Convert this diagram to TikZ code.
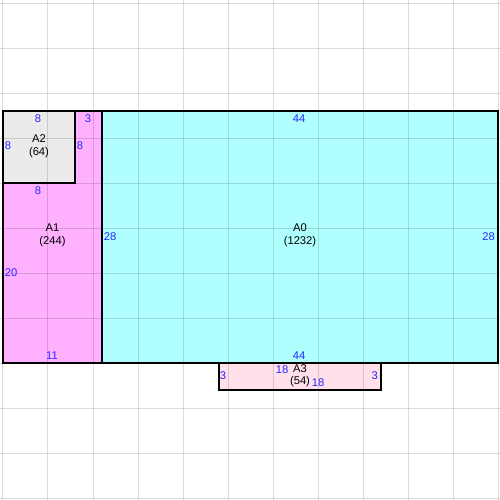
\documentclass[tikz,border=0pt]{standalone}
\usepackage{fontspec}
\setmainfont{Liberation Sans}
\definecolor{fillAzero}{RGB}{176,255,255}
\definecolor{fillAone}{RGB}{255,176,255}
\definecolor{fillAtwo}{RGB}{235,235,235}
\definecolor{fillAthree}{RGB}{255,224,235}
\definecolor{dimblue}{RGB}{40,40,255}

\tikzset{
  part/.style={draw=black, line width=0.9pt},
  gridline/.style={draw=black, draw opacity=0.14, line width=0.75pt},
  dimlabel/.style={text=dimblue, inner sep=0pt, font=\fontsize{8.4}{9.75}\selectfont},
  partname/.style={align=center, inner sep=0pt, font=\fontsize{8.4}{9.5}\selectfont},
}

\begin{document}
\begin{tikzpicture}[x=6.75pt,y=-6.75pt]
  \useasboundingbox (-0.3333,-0.3333) rectangle (55.2222,55.2222);

  %fills
  \fill[fillAzero] (11,12) rectangle (55,40);
  \fill[fillAone] (0,12) rectangle (11,40);
  \fill[fillAtwo] (0,12) rectangle (8,20);
  \fill[fillAthree] (24,40) rectangle (42,43);

  %grid, every 5 units
  \foreach \k in {0,5,...,55}{
    \draw[gridline] (\k,-1) -- (\k,56);
    \draw[gridline] (-1,\k) -- (56,\k);
  }

  %outlines
  \draw[part] (11,12) rectangle (55,40);
  \draw[part] (0,12) rectangle (11,40);
  \draw[part] (0,12) rectangle (8,20);
  \draw[part] (24,40) rectangle (42,43);

  %names
  \node[partname] (nameA0) at (33,25.8) {A0\\(1232)};
  \node[partname] (nameA1) at (5.5,25.8) {A1\\(244)};
  \node[partname] (nameA2) at (4,15.9) {A2\\(64)};
  \node[partname] (nameA3) at (33,41.4) {A3\\(54)};

  %side lengths
  \node[dimlabel] (a2top)   at (3.9,12.8)  {8};
  \node[dimlabel] (a2left)  at (0.55,15.9) {8};
  \node[dimlabel] (a2right) at (8.55,15.9) {8};
  \node[dimlabel] (a2bot)   at (3.9,20.8)  {8};
  \node[dimlabel] (a1top)   at (9.45,12.8) {3};
  \node[dimlabel] (a1right) at (11.9,26)   {28};
  \node[dimlabel] (a1left)  at (0.9,30)    {20};
  \node[dimlabel] (a1bot)   at (5.45,39.2) {11};
  \node[dimlabel] (a0top)   at (32.9,12.8) {44};
  \node[dimlabel] (a0right) at (53.95,26)  {28};
  \node[dimlabel] (a0bot)   at (32.9,39.2) {44};
  \node[dimlabel] (a3top)   at (31,40.7)   {18};
  \node[dimlabel] (a3bot)   at (35,42.2)   {18};
  \node[dimlabel] (a3left)  at (24.45,41.4) {3};
  \node[dimlabel] (a3right) at (41.3,41.4) {3};
\end{tikzpicture}
\end{document}
